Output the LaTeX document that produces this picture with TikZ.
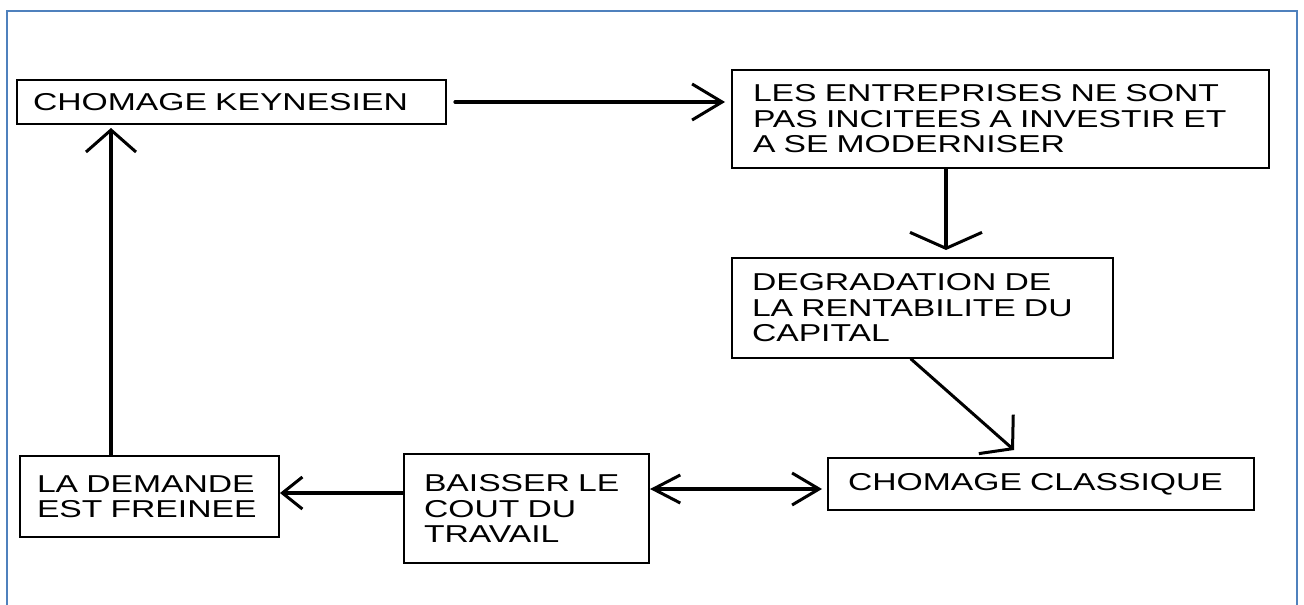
\documentclass[tikz,border=0pt]{standalone}
\usepackage{fontspec}
\newfontfamily\boxfont{Liberation Sans}[FakeStretch=1.38]
\usepackage{tikz}
\usetikzlibrary{
  arrows.meta,
  positioning
}
\definecolor{frameblue}{RGB}{79,129,189}
\tikzset{
  ecobox/.style={draw, line width=2pt, anchor=north west,
    align=left, inner xsep=20pt, inner ysep=0pt,
    font=\boxfont\fontsize{24.4pt}{25.5pt}\selectfont},
  arr/.style={line width=3.2pt, line cap=round},
  framebox/.style={line width=2.5pt, frameblue},
}

\begin{document}
\begin{tikzpicture}[x=1pt, y=-1pt]
  \useasboundingbox (0,0) rectangle (1304,605);

  % Outer frame, open at the bottom
  \draw[framebox] (7,605) -- (7,11) -- (1297,11) -- (1297,605);

  % Top row
  \node[ecobox, inner xsep=16pt, text width=397pt, minimum height=44pt]
    (keynes) at (16,79) {CHOMAGE KEYNESIEN};
  \node[ecobox, inner xsep=21pt, text width=495pt, minimum height=98pt]
    (invest) at (731,69)
    {LES ENTREPRISES NE SONT\\
     PAS INCITEES A INVESTIR ET\\
     A SE MODERNISER};

  % Right column
  \node[ecobox, text width=341pt, minimum height=100pt]
    (rentab) at (731,257)
    {DEGRADATION DE\\
     LA RENTABILITE DU\\
     CAPITAL};
  \node[ecobox, text width=386pt, minimum height=52pt]
    (classic) at (827,457) {CHOMAGE CLASSIQUE};

  % Bottom row
  \node[ecobox, text width=205pt, minimum height=109pt]
    (cout) at (403,453)
    {BAISSER LE\\
     COUT DU\\
     TRAVAIL};
  \node[ecobox, inner xsep=17pt, text width=225pt, minimum height=81pt]
    (demande) at (19,455)
    {LA DEMANDE\\
     EST FREINEE};

  % Helper points for the connectors
  \coordinate (down) at ([xshift=23.5pt]rentab.north);
  \coordinate (diagA) at ([xshift=-11.5pt]rentab.south);
  \coordinate (diagB) at ([xshift=-27pt, yshift=7pt]classic.north);
  \coordinate (both) at ([yshift=-5pt]classic.west);
  \coordinate (left) at ([yshift=3.5pt]demande.east);
  \coordinate (up) at ([xshift=-38.5pt]demande.north);

  % Arrows
  \draw[arr, -{Straight Barb[length=30pt, width=36pt, line width=3pt]},
        shorten <=8pt, shorten >=6pt]
    (keynes.east) -- (keynes.east -| invest.west);
  \draw[arr, -{Straight Barb[length=16pt, width=72pt, line width=3pt]},
        shorten >=7pt]
    (down |- invest.south) -- (down);
  \draw[arr, line width=3pt,
        -{Straight Barb[length=22pt, width=52pt, line width=3pt]}]
    (diagA) -- (diagB);
  \draw[arr, {Straight Barb[length=27pt, width=28pt, line width=3pt]}-{Straight Barb[length=27pt, width=32pt, line width=3pt]},
        shorten >=5pt]
    (both -| cout.east) -- (both);
  \draw[arr, -{Straight Barb[length=20pt, width=32pt, line width=3pt]}]
    (left -| cout.west) -- (left);
  \draw[arr, -{Straight Barb[length=22pt, width=50pt, line width=3pt]},
        shorten >=3pt]
    (up) -- (up |- keynes.south);
\end{tikzpicture}
\end{document}
